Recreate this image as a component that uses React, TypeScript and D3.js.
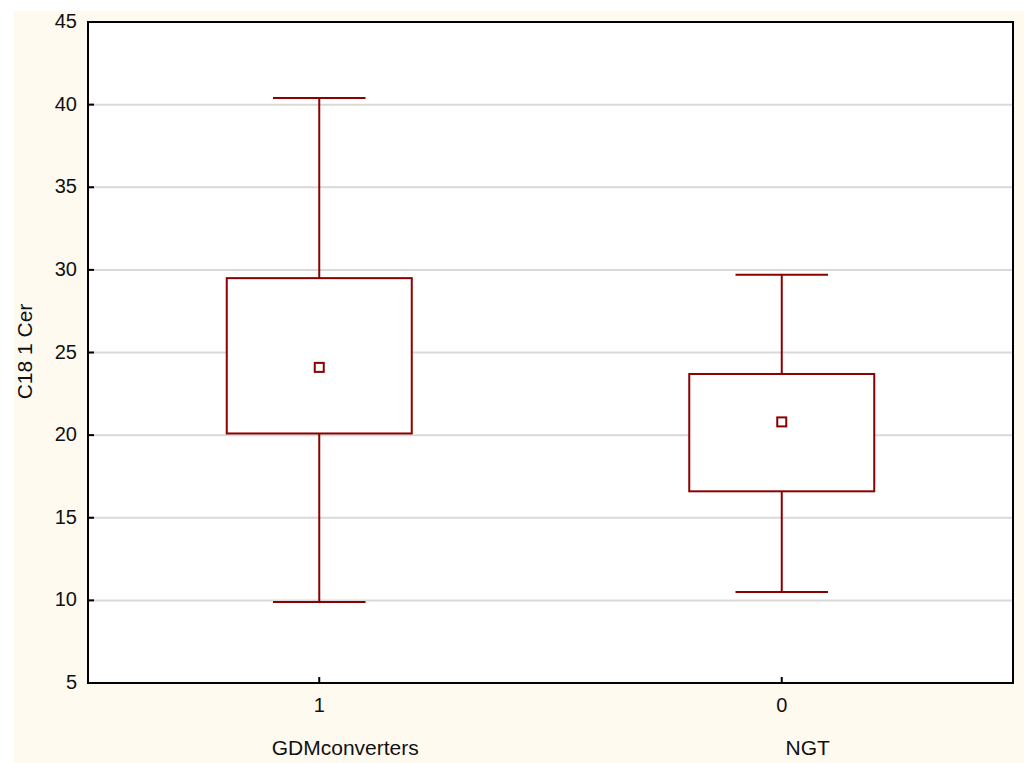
import React from 'react';
import * as d3 from 'd3';

// box plot values
const groups = ['GDMconverters', 'NGT'];
const codes = ['1', '0'];
const means = [24.1, 20.8];
const boxLow = [20.1, 16.6];
const boxHigh = [29.5, 23.7];
const whiskerLow = [9.9, 10.5];
const whiskerHigh = [40.4, 29.7];
const yTicks = [5, 10, 15, 20, 25, 30, 35, 40, 45];

const W = 1024;
const H = 763;
const left = 88;
const top = 22;
const right = 1013;
const bottom = 683;
const RED = '#8b0000';
const FONT = 'Liberation Sans, Arial, sans-serif';

export default function App() {
  const y = d3.scaleLinear().domain([5, 45]).range([bottom, top]);
  const x = d3.scaleBand().domain(codes).range([left, right]).paddingInner(0).paddingOuter(0);
  const bw = x.bandwidth() * 0.4;
  const cap = bw / 2;

  return (
    <svg width={W} height={H} style={{ position: 'absolute', left: 0, top: 0 }} fontFamily={FONT}>
      <rect x={0} y={0} width={W} height={H} fill="#ffffff" />
      <rect x={14} y={11} width={W - 14} height={H - 11} fill="#fefaf0" />
      <rect x={left} y={top} width={right - left} height={bottom - top} fill="#ffffff" />

      {/* grid */}
      {yTicks.filter(t => t > 5 && t < 45).map(t => (
        <line key={'g' + t} x1={left} x2={right} y1={y(t)} y2={y(t)} stroke="#d9d9d9" strokeWidth={2} />
      ))}

      {/* boxes */}
      {codes.map((c, i) => {
        const cx = x(c)! + x.bandwidth() / 2;
        return (
          <g key={c} stroke={RED} strokeWidth={2} fill="none">
            <line x1={cx} x2={cx} y1={y(whiskerHigh[i])} y2={y(boxHigh[i])} />
            <line x1={cx} x2={cx} y1={y(boxLow[i])} y2={y(whiskerLow[i])} />
            <line x1={cx - cap / 2} x2={cx + cap / 2} y1={y(whiskerHigh[i])} y2={y(whiskerHigh[i])} />
            <line x1={cx - cap / 2} x2={cx + cap / 2} y1={y(whiskerLow[i])} y2={y(whiskerLow[i])} />
            <rect x={cx - bw / 2} y={y(boxHigh[i])} width={bw} height={y(boxLow[i]) - y(boxHigh[i])} fill="#ffffff" />
            <rect x={cx - 4.5} y={y(means[i]) - 4.5} width={9} height={9} />
          </g>
        );
      })}

      {/* frame */}
      <rect x={left} y={top} width={right - left} height={bottom - top} fill="none" stroke="#000" strokeWidth={2} />

      {/* y axis */}
      {yTicks.map(t => (
        <g key={'y' + t}>
          <line x1={left} x2={left + 6} y1={y(t)} y2={y(t)} stroke="#000" strokeWidth={2} />
          <text x={77} y={y(t)} dy="0.3em" textAnchor="end" fontSize={20} fill="#111">{t}</text>
        </g>
      ))}
      <text transform={`translate(32,${(top + bottom) / 2 - 1}) rotate(-90)`} textAnchor="middle" fontSize={21} fill="#111">
        C18 1 Cer
      </text>

      {/* x axis */}
      {codes.map((c, i) => {
        const cx = x(c)! + x.bandwidth() / 2;
        return (
          <g key={'x' + c}>
            <line x1={cx} x2={cx} y1={bottom} y2={bottom - 6} stroke="#000" strokeWidth={2} />
            <text x={cx} y={712} textAnchor="middle" fontSize={20} fill="#111">{c}</text>
            <text x={cx + 26} y={755} textAnchor="middle" fontSize={21} fill="#111">{groups[i]}</text>
          </g>
        );
      })}
    </svg>
  );
}
